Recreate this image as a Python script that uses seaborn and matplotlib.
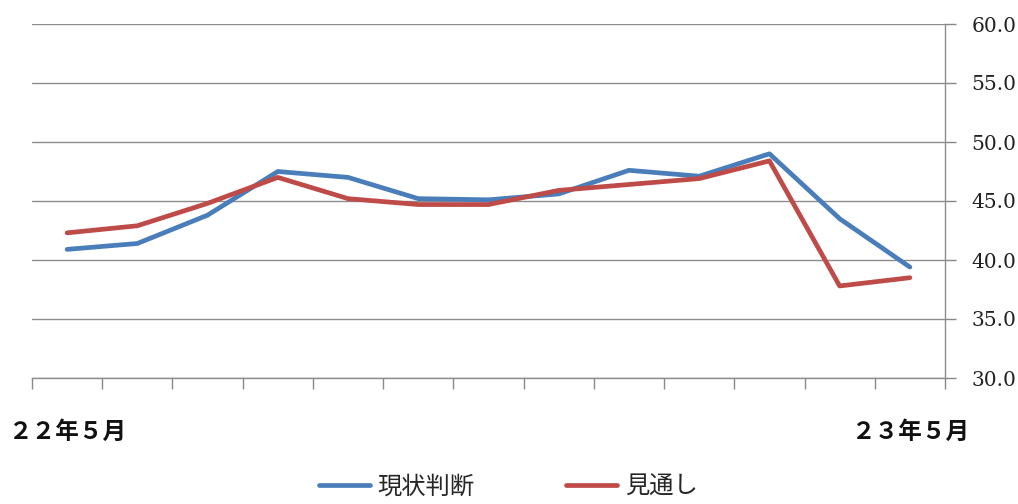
import matplotlib
matplotlib.use("Agg")
import matplotlib.pyplot as plt
import seaborn as sns
import pandas as pd

# Monthly index, May 2022 to May 2023
months = ["22/05", "22/06", "22/07", "22/08", "22/09", "22/10", "22/11",
          "22/12", "23/01", "23/02", "23/03", "23/04", "23/05"]
current = [40.9, 41.4, 43.8, 47.5, 47.0, 45.2, 45.1, 45.6, 47.6, 47.1, 49.0, 43.5, 39.4]
outlook = [42.3, 42.9, 44.8, 47.0, 45.2, 44.7, 44.7, 45.9, 46.4, 46.9, 48.4, 37.8, 38.5]
series_names = ["現状判断", "見通し"]
edge_labels = ["２２年５月", "２３年５月"]
y_ticks = [30, 35, 40, 45, 50, 55, 60]

df = pd.DataFrame({
    "idx": list(range(len(months))) * 2,
    "value": current + outlook,
    "series": [series_names[0]] * len(months) + [series_names[1]] * len(months),
})

sns.set_theme(style="white")
plt.rcParams["font.family"] = ["Noto Sans CJK JP", "DejaVu Sans"]

fig = plt.figure(figsize=(10.18, 5.04), dpi=100)
ax = fig.add_axes([32 / 1018, 1 - 378 / 504, (945 - 32) / 1018, (378 - 24) / 504])

palette = {series_names[0]: "#4A7EBB", series_names[1]: "#BE4B48"}
sns.lineplot(data=df, x="idx", y="value", hue="series", palette=palette,
             linewidth=3.4, ax=ax, legend=True)

ax.set_xlim(-0.5, len(months) - 0.5)
ax.set_ylim(30, 60)
ax.set_yticks(y_ticks)
ax.set_yticklabels([f"{v:.1f}" for v in y_ticks], family="DejaVu Serif",
                   fontsize=14.5, color="#222222")
ax.yaxis.tick_right()
ax.tick_params(axis="y", which="both", right=True, length=8, width=1,
               color="#888888", pad=11)
ax.grid(axis="y", color="#8c8c8c", linewidth=1)
ax.set_xticks([i - 0.5 for i in range(len(months) + 1)])
ax.set_xticklabels([])
ax.tick_params(axis="x", bottom=True, length=8, width=1, color="#888888")
ax.set_xlabel("")
ax.set_ylabel("")

for side in ["top", "left"]:
    ax.spines[side].set_visible(False)
for side in ["right", "bottom"]:
    ax.spines[side].set_visible(True)
    ax.spines[side].set_color("#8c8c8c")
    ax.spines[side].set_linewidth(1)

fig.text(9 / 1018, 1 - 432 / 504, edge_labels[0], fontsize=17, fontweight="bold",
         ha="left", va="center", color="#111111")
fig.text(970 / 1018, 1 - 432 / 504, edge_labels[1], fontsize=17, fontweight="bold",
         ha="right", va="center", color="#111111")

handles, labels = ax.get_legend_handles_labels()
ax.legend(handles, labels, loc="center", bbox_to_anchor=(508 / 1018, 1 - 487 / 504),
          bbox_transform=fig.transFigure, ncol=2, frameon=False, fontsize=17.5,
          handlelength=2.1, columnspacing=3.8, handletextpad=0.3,
          borderpad=0.2)

fig.savefig("out.png", dpi=100)
